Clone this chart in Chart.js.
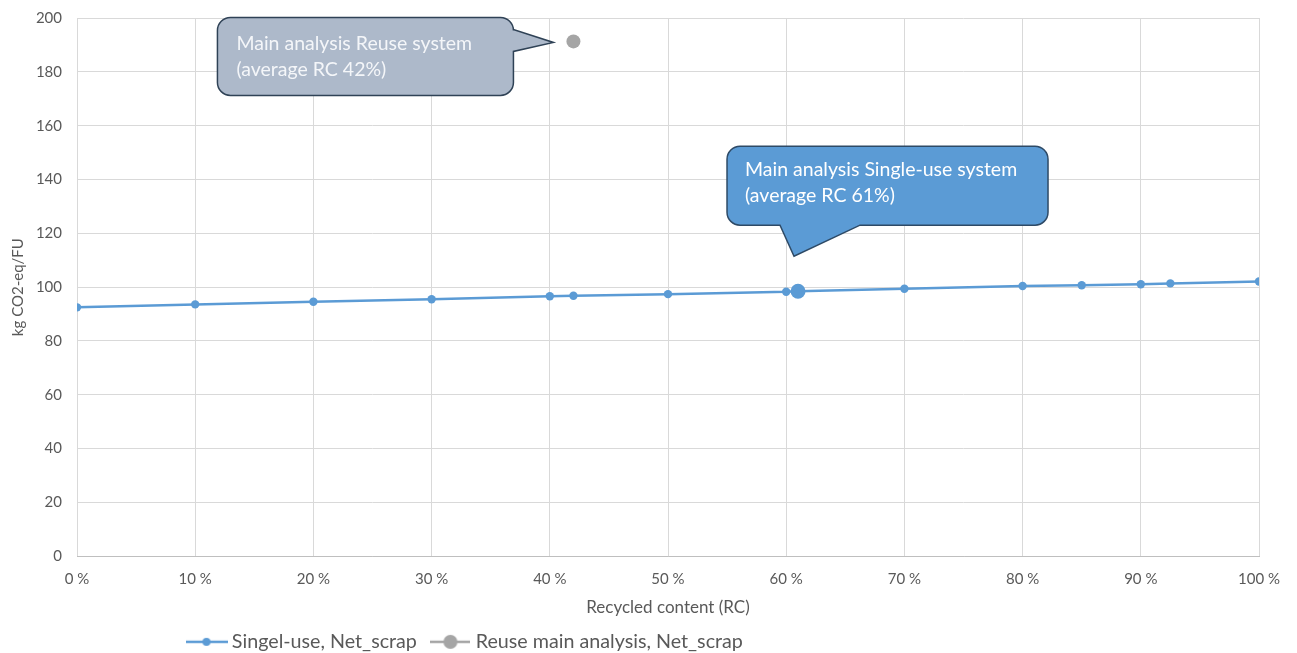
<!DOCTYPE html>
<html>
<head>
<meta charset="utf-8">
<script src="https://cdn.jsdelivr.net/npm/chart.js@4/dist/chart.umd.min.js"></script>
<style>
  html, body { margin: 0; padding: 0; background: #ffffff; }
  #wrap { width: 1297px; height: 653px; }
</style>
</head>
<body>
<div id="wrap"><canvas id="c" width="1297" height="653"></canvas></div>
<script>
// Recycled content (%) and climate impact (kg CO2-eq per functional unit)
const rcSingleUse = [0, 10, 20, 30, 40, 42, 50, 60, 61, 70, 80, 85, 90, 92.5, 100];
const co2SingleUse = [92.5, 93.6, 94.6, 95.5, 96.6, 96.8, 97.4, 98.3, 98.5, 99.4, 100.4, 100.7, 101.1, 101.4, 102.1];
const rcReuse = [42];
const co2Reuse = [191.3];

// Main-analysis points highlighted with callouts
const mainRcSingleUse = 61;
const mainRcReuse = 42;

const seriesNames = ['Singel-use, Net_scrap', 'Reuse main analysis, Net_scrap'];
const calloutSingleUse = ['Main analysis Single-use system', '(average RC 61%)'];
const calloutReuse = ['Main analysis Reuse system', '(average RC 42%)'];

const yTicks = [0, 20, 40, 60, 80, 100, 120, 140, 160, 180, 200];
const xTicks = [0, 10, 20, 30, 40, 50, 60, 70, 80, 90, 100];

const BLUE = '#5b9bd5';
const GREY = '#a5a5a5';
const TEXT = '#595959';
const GRID = '#d9d9d9';
const FONT = 'Lato, "Open Sans", sans-serif';

function toPoints(xs, ys) { return xs.map((x, i) => ({ x: x, y: ys[i] })); }

// Legend symbols: a short line with a marker in the middle
function legendSymbol(color, radius, width) {
  const c = document.createElement('canvas');
  c.width = width; c.height = radius * 2 + 4;
  const g = c.getContext('2d');
  const cy = c.height / 2;
  g.strokeStyle = color; g.lineWidth = 2.5;
  g.beginPath(); g.moveTo(0, cy); g.lineTo(width, cy); g.stroke();
  g.fillStyle = color;
  g.beginPath(); g.arc(width / 2, cy, radius, 0, Math.PI * 2); g.fill();
  return c;
}
const symSingle = legendSymbol(BLUE, 4, 42);
const symReuse = legendSymbol(GREY, 7, 40);

// Rounded callout box with a pointer; tail given as [base1, tip, base2]
function calloutPath(ctx, L, T, R, B, r, side, tail) {
  ctx.beginPath();
  ctx.moveTo(L + r, T);
  ctx.lineTo(R - r, T);
  ctx.arcTo(R, T, R, T + r, r);
  if (side === 'right') {
    ctx.lineTo(R, tail[0][1]);
    ctx.lineTo(tail[1][0], tail[1][1]);
    ctx.lineTo(R, tail[2][1]);
  }
  ctx.lineTo(R, B - r);
  ctx.arcTo(R, B, R - r, B, r);
  if (side === 'bottom') {
    ctx.lineTo(tail[0][0], B);
    ctx.lineTo(tail[1][0], tail[1][1]);
    ctx.lineTo(tail[2][0], B);
  }
  ctx.lineTo(L + r, B);
  ctx.arcTo(L, B, L, B - r, r);
  ctx.lineTo(L, T + r);
  ctx.arcTo(L, T, L + r, T, r);
  ctx.closePath();
}

const calloutPlugin = {
  id: 'callouts',
  afterDatasetsDraw(chart) {
    const ctx = chart.ctx;
    const xs = chart.scales.x, ys = chart.scales.y;
    const items = [
      {
        ax: xs.getPixelForValue(mainRcReuse), ay: ys.getPixelForValue(co2Reuse[0]),
        box: [-356, -24, -60, 54], side: 'right',
        tail: [[-60, -12], [-20, 1], [-60, 10]],
        fill: '#adb9ca', stroke: '#2f4256', text: calloutReuse, tx: -337, ty: 2, color: '#f4f6f9'
      },
      {
        ax: xs.getPixelForValue(mainRcSingleUse),
        ay: ys.getPixelForValue(co2SingleUse[rcSingleUse.indexOf(mainRcSingleUse)]),
        box: [-71, -145, 250, -66], side: 'bottom',
        tail: [[62, 0], [-4, -35], [-18, 0]],
        fill: BLUE, stroke: '#2e4a66', text: calloutSingleUse, tx: -53, ty: -121.5, color: '#ffffff'
      }
    ];
    ctx.save();
    items.forEach(it => {
      const L = it.ax + it.box[0], T = it.ay + it.box[1], R = it.ax + it.box[2], B = it.ay + it.box[3];
      const tail = it.tail.map(p => [it.ax + p[0], it.ay + p[1]]);
      calloutPath(ctx, L, T, R, B, 13, it.side, tail);
      ctx.fillStyle = it.fill; ctx.fill();
      ctx.lineWidth = 1.5; ctx.strokeStyle = it.stroke; ctx.stroke();
      ctx.fillStyle = it.color;
      ctx.font = '19.5px ' + FONT;
      ctx.textAlign = 'left'; ctx.textBaseline = 'middle';
      it.text.forEach((line, i) => ctx.fillText(line, it.ax + it.tx, it.ay + it.ty + i * 26.5));
    });
    ctx.restore();
  }
};

// Legend row placement under the plot
const legendPlace = {
  id: 'legendPlace',
  afterLayout(chart) {
    const lg = chart.legend;
    const h = lg.bottom - lg.top;
    lg.top = 614; lg.bottom = 614 + h;
    const w = lg.right - lg.left;
    lg.left = 173; lg.right = 173 + w;
  }
};

new Chart(document.getElementById('c'), {
  type: 'line',
  data: {
    datasets: [
      {
        label: seriesNames[0],
        data: toPoints(rcSingleUse, co2SingleUse),
        borderColor: BLUE, backgroundColor: BLUE,
        borderWidth: 2.5,
        pointRadius: c => (c.raw && c.raw.x === mainRcSingleUse ? 7.5 : 4.2),
        pointBorderWidth: 0,
        pointBackgroundColor: BLUE,
        tension: 0
      },
      {
        label: seriesNames[1],
        data: toPoints(rcReuse, co2Reuse),
        borderColor: GREY, backgroundColor: GREY,
        borderWidth: 2.5,
        pointRadius: 7,
        pointBorderWidth: 0,
        pointBackgroundColor: GREY
      }
    ]
  },
  options: {
    responsive: false,
    animation: false,
    layout: { padding: { left: 0, right: 38, top: 18, bottom: 0 } },
    plugins: {
      tooltip: { enabled: false },
      legend: {
        position: 'bottom',
        align: 'start',
        labels: {
          usePointStyle: true,
          pointStyleWidth: 31,
          padding: 18,
          color: TEXT,
          font: { family: FONT, size: 19.7 },
          generateLabels(chart) {
            return chart.data.datasets.map((ds, i) => ({
              text: ds.label,
              fillStyle: ds.borderColor,
              strokeStyle: ds.borderColor,
              lineWidth: 0,
              pointStyle: i === 0 ? symSingle : symReuse,
              fontColor: TEXT,
              hidden: false,
              datasetIndex: i
            }));
          }
        }
      }
    },
    scales: {
      x: {
        type: 'linear',
        min: 0, max: 100,
        afterBuildTicks(scale) { scale.ticks = xTicks.map(v => ({ value: v })); },
        afterFit(scale) { scale.height = 49; },
        grid: { color: GRID, lineWidth: 1, drawTicks: false },
        border: { color: '#bfbfbf', width: 1 },
        ticks: {
          padding: 14,
          color: TEXT,
          font: { family: FONT, size: 15 },
          maxRotation: 0,
          callback: v => v + ' %'
        },
        title: {
          display: true,
          text: 'Recycled content (RC)',
          color: TEXT,
          font: { family: FONT, size: 17 },
          padding: { top: 0, bottom: -12 }
        }
      },
      y: {
        min: 0, max: 200,
        afterBuildTicks(scale) { scale.ticks = yTicks.map(v => ({ value: v })); },
        afterFit(scale) { scale.width = 77; scale.paddingTop = 0; scale.paddingBottom = 0; },
        grid: { color: GRID, lineWidth: 1, drawTicks: false },
        border: { display: false },
        ticks: {
          padding: 15,
          color: TEXT,
          font: { family: FONT, size: 15 }
        },
        title: {
          display: true,
          text: 'kg CO2-eq/FU',
          color: TEXT,
          font: { family: FONT, size: 15 },
          padding: { top: 9, bottom: 0 }
        }
      }
    }
  },
  plugins: [calloutPlugin, legendPlace]
});
</script>
</body>
</html>
